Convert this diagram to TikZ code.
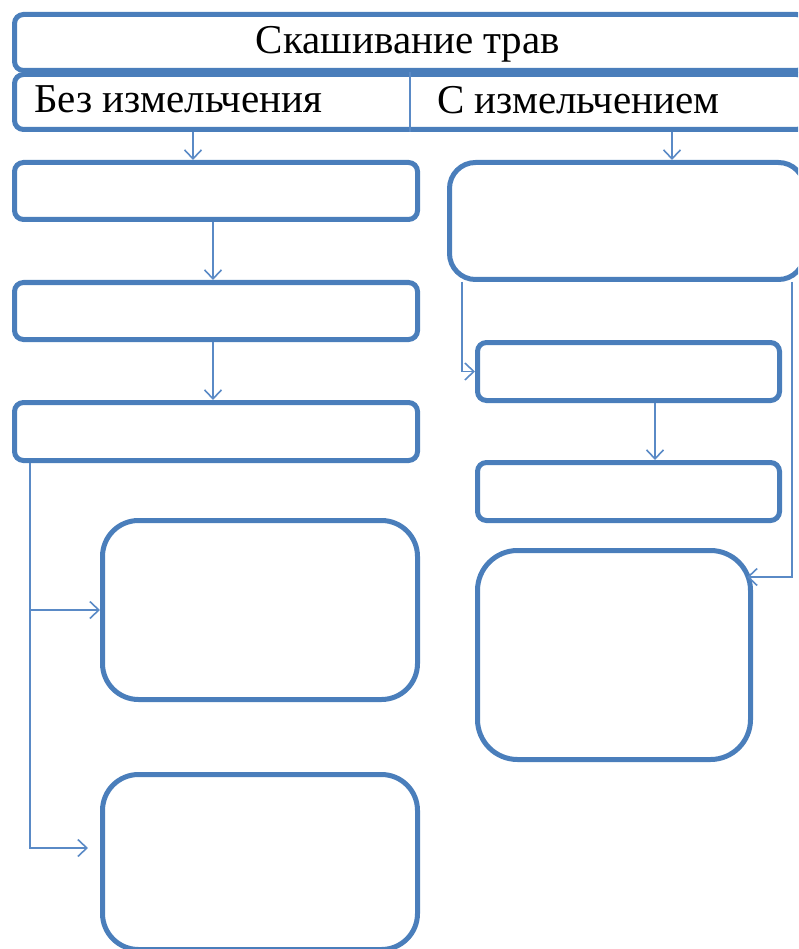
\documentclass[tikz,border=0pt]{standalone}
\usepackage{fontspec}
\setmainfont{Liberation Serif}
\usetikzlibrary{arrows.meta}
\definecolor{bl}{HTML}{4A7EBB}
\definecolor{ln}{HTML}{5A8AC6}
\begin{document}
\begin{tikzpicture}[x=1pt,y=-1pt,
  box/.style={draw=bl, line width=5pt, rounded corners=#1, inner sep=0pt, anchor=north west},
  box/.default=9pt,
  conn/.style={draw=ln, line width=1.6pt, -{Straight Barb[length=9pt,width=17pt]}},
  thin/.style={draw=ln, line width=1.6pt},
  lbl/.style={font=\fontsize{41}{41}\selectfont, anchor=base, inner sep=0pt}]
\useasboundingbox (0,0) rectangle (798,949);
\clip (0,0) rectangle (798,949);
% header boxes
\node[box, minimum width=791pt, minimum height=56pt] (top) at (12,12) {};
\node[box, minimum width=791pt, minimum height=55pt] (sub) at (12,72) {};
\coordinate (dv) at (410,0);
\draw[thin] (sub.north -| dv) -- (sub.south -| dv);
\node[lbl] (ttop) at (408,54) {Скашивание трав};
\node[lbl, anchor=base west] (tl) at (34,113) {Без измельчения};
\node[lbl, anchor=base west] (tr) at (437,114) {С измельчением};
% left column
\node[box, minimum width=403pt, minimum height=57pt] (A) at (12,160) {};
\node[box, minimum width=403pt, minimum height=57pt] (B) at (12,280) {};
\node[box, minimum width=403pt, minimum height=58pt] (C) at (12,400) {};
\node[box=36pt, minimum width=315pt, minimum height=179pt] (D) at (100,518) {};
\node[box=36pt, minimum width=315pt, minimum height=175pt] (F) at (100,772) {};
% right column
\node[box=26pt, minimum width=355pt, minimum height=117pt] (E) at (447,160) {};
\node[box, minimum width=302pt, minimum height=58pt] (G) at (475,340) {};
\node[box, minimum width=302pt, minimum height=58pt] (H) at (475,460) {};
\node[box=40pt, minimum width=273pt, minimum height=209pt] (I) at (475,548) {};
% connectors
\coordinate (a1) at (193,0);
\coordinate (a2) at (672,0);
\coordinate (a3) at (213,0);
\coordinate (c1) at (30,0);
\coordinate (e1) at (462,0);
\coordinate (e2) at (792,0);
\coordinate (g1) at (655,0);
\coordinate (fend) at (88,848);
\coordinate (iend) at (747,577);
\draw[conn] (sub.south -| a1) -- (A.north -| a1);
\draw[conn] (sub.south -| a2) -- (E.north -| a2);
\draw[conn] (A.south -| a3) -- (B.north -| a3);
\draw[conn] (B.south -| a3) -- (C.north -| a3);
\draw[conn] (C.south -| c1) |- (D.west);
\draw[conn] (C.south -| c1) |- (fend);
\draw[conn] (E.south -| e1) |- (G.west);
\draw[conn] (E.south -| e2) |- (iend);
\draw[conn] (G.south -| g1) -- (H.north -| g1);
\end{tikzpicture}
\end{document}
